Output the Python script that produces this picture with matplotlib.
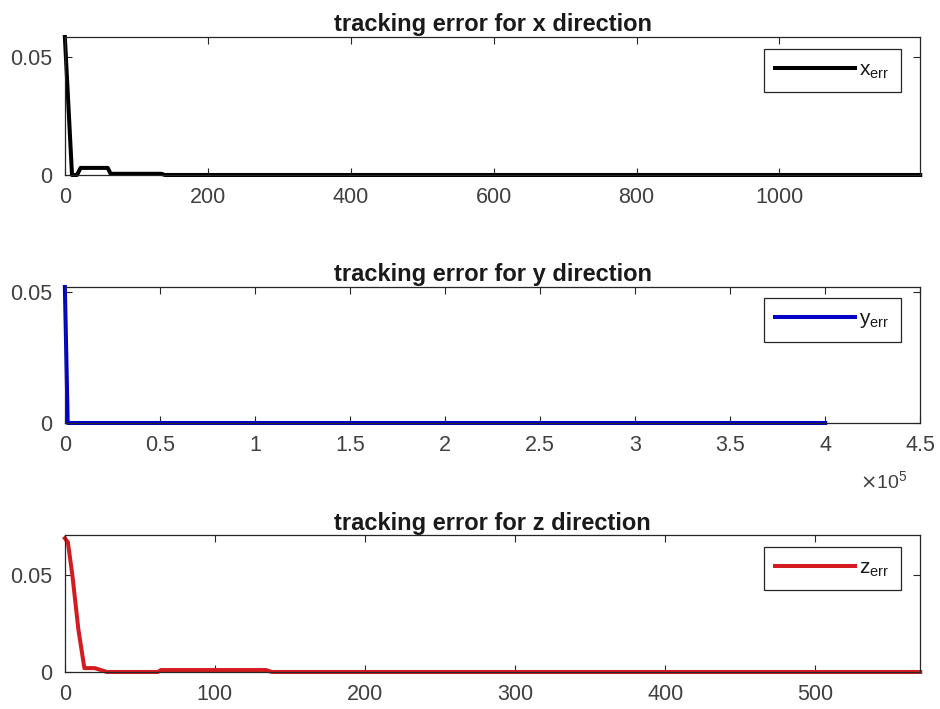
import matplotlib.pyplot as plt

# tracking error samples (time step, error)
x_t = [0, 10, 17, 22, 60, 64, 135, 140, 1197]
x_err = [0.0585, 0.0, 0.0, 0.003, 0.003, 0.0005, 0.0005, 0.0, 0.0]

y_t = [0, 1500, 400000]
y_err = [0.052, 0.0, 0.0]

z_t = [0, 2, 5, 9, 13, 20, 28, 62, 64, 134, 138, 570]
z_err = [0.069, 0.067, 0.05, 0.022, 0.002, 0.002, 0.0, 0.0, 0.001, 0.001, 0.0, 0.0]

x_ticks = [0, 200, 400, 600, 800, 1000]
y_ticks = [0, 50000, 100000, 150000, 200000, 250000, 300000, 350000, 400000, 450000]
y_tick_labels = ["0", "0.5", "1", "1.5", "2", "2.5", "3", "3.5", "4", "4.5"]
z_ticks = [0, 100, 200, 300, 400, 500]

plt.rcParams['font.family'] = ['Liberation Sans', 'DejaVu Sans']
grey = '#262626'
label_grey = '#404040'

fig = plt.figure(figsize=(9.4, 7.09), dpi=100)
ax1 = fig.add_axes([0.069, 0.7532, 0.910, 0.1946])
ax2 = fig.add_axes([0.069, 0.4034, 0.910, 0.1918])
ax3 = fig.add_axes([0.069, 0.0522, 0.910, 0.1930])

ax1.plot(x_t, x_err, color='black', lw=2.9, label=r'$\mathregular{x_{err}}$', clip_on=False)
ax2.plot(y_t, y_err, color='#0000c8', lw=2.9, label=r'$\mathregular{y_{err}}$', clip_on=False)
ax3.plot(z_t, z_err, color='#d41c20', lw=2.9, label=r'$\mathregular{z_{err}}$', clip_on=False)

title_kw = dict(fontweight='bold', fontsize=17, pad=4, color='#1a1a1a')

ax1.set_xlim(0, 1197)
ax1.set_ylim(0, 0.0585)
ax1.set_xticks(x_ticks, [str(v) for v in x_ticks])
ax1.set_yticks([0, 0.05], ['0', '0.05'])
ax1.set_title('tracking error for x direction', **title_kw)

ax2.set_xlim(0, 450000)
ax2.set_ylim(0, 0.052)
ax2.set_xticks(y_ticks, y_tick_labels)
ax2.set_yticks([0, 0.05], ['0', '0.05'])
ax2.set_title('tracking error for y direction', **title_kw)
ax2.text(0.985, -0.478, r'$\times\mathregular{10^5}$', transform=ax2.transAxes,
         ha='right', va='baseline', fontsize=14, color=label_grey)

ax3.set_xlim(0, 570)
ax3.set_ylim(0, 0.0706)
ax3.set_xticks(z_ticks, [str(v) for v in z_ticks])
ax3.set_yticks([0, 0.05], ['0', '0.05'])
ax3.set_title('tracking error for z direction', **title_kw)

legend_tops = [0.913, 0.919, 0.912]
for ax, top in zip([ax1, ax2, ax3], legend_tops):
    ax.tick_params(direction='in', length=5, width=0.8, top=True, right=True,
                   labelsize=15.5, labelcolor=label_grey, color=grey)
    ax.tick_params(axis='x', pad=9)
    ax.tick_params(axis='y', pad=9)
    for s in ax.spines.values():
        s.set_color(grey)
        s.set_linewidth(0.9)
    leg = ax.legend(loc='upper right', bbox_to_anchor=(0.977, top), borderaxespad=0,
                    fancybox=False, edgecolor=grey, framealpha=1, fontsize=15,
                    handlelength=3.8, handletextpad=0.2, borderpad=0.55)
    leg.get_frame().set_linewidth(0.9)
    for t in leg.get_texts():
        t.set_color('#1a1a1a')

fig.savefig('out.png', dpi=100)
